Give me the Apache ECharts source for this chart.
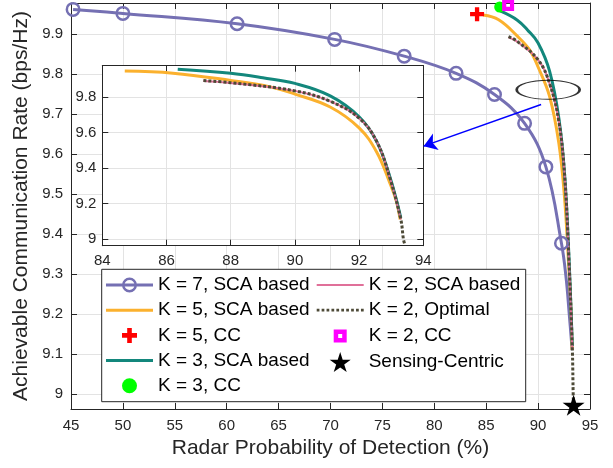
<!DOCTYPE html>
<html>
<head>
<meta charset="utf-8">
<script src="https://cdn.jsdelivr.net/npm/echarts@6/dist/echarts.min.js"></script>
<style>
  html, body { margin: 0; padding: 0; background: #fff; }
  #chart { width: 613px; height: 468px; }
</style>
</head>
<body>
<div id="chart"></div>
<script>
// values: [radar Pd (%), rate (bps/Hz)]
const k7Markers = [[45.2, 9.962], [50.0, 9.952], [61.0, 9.926], [70.4, 9.887], [77.1, 9.845],
  [82.1, 9.802], [85.8, 9.749], [88.7, 9.677], [90.75, 9.568], [92.25, 9.377]];
const k7Tail = [[92.7, 9.29], [93.0, 9.2], [93.28, 9.11]];
const k5Sca = [[84.7, 9.948], [86.2, 9.936], [88.0, 9.895], [89.2, 9.86], [90.0, 9.818], [91.1, 9.745],
  [92.0, 9.627], [92.55, 9.49], [92.95, 9.32], [93.15, 9.22], [93.28, 9.11]];
const k3Sca = [[86.35, 9.958], [88.0, 9.935], [89.0, 9.91], [90.0, 9.878], [91.1, 9.808], [92.0, 9.69],
  [92.55, 9.55], [92.96, 9.35], [93.3, 9.12]];
const k2Sca = [[87.15, 9.892], [88.0, 9.881], [90.0, 9.836], [91.1, 9.777], [92.0, 9.682],
  [92.55, 9.55], [92.96, 9.344], [93.3, 9.11]];
const k2Optimal = [[87.15, 9.894], [88.0, 9.882], [90.0, 9.836], [91.1, 9.777], [92.0, 9.682],
  [92.55, 9.55], [92.96, 9.344], [93.3, 9.11], [93.38, 9.0], [93.42, 8.972]];
const k5Cc = [[84.12, 9.95]];
const k3Cc = [[86.3, 9.968]];
const k2Cc = [[87.11, 9.973]];
const sensingCentric = [[93.42, 8.972]];

// zoom annotation: ellipse centre and arrow (start -> end)
const zoomMark = [[90.97, 9.761]];
const zoomArrow = [[90.29, 9.724], [78.97, 9.62]];

const mainXTicks = [45, 50, 55, 60, 65, 70, 75, 80, 85, 90, 95];
const mainYTicks = [9, 9.1, 9.2, 9.3, 9.4, 9.5, 9.6, 9.7, 9.8, 9.9];
const insetXTicks = [84, 86, 88, 90, 92, 94];
const insetYTicks = [9, 9.2, 9.4, 9.6, 9.8];
const yRange = [8.9625, 9.978];

const FONT = '"Liberation Sans", Arial, Helvetica, sans-serif';
const INK = '#262626';
const GRID_LINE = '#e3e3e3';
const C = {
  k7: '#7570b3', k5: '#fbb12e', k3: '#13877c', k2: '#e07099', opt: '#4d4a37',
  red: '#ff0000', green: '#00ff00', magenta: '#ff00ff', black: '#000000',
};

const RING = 'path://M7.5,0A7.5,7.5,0,1,1,7.5,15A7.5,7.5,0,1,1,7.5,0Z M7.5,2.5A5,5,0,1,0,7.5,12.5A5,5,0,1,0,7.5,2.5Z';
const CROSS = 'path://M4.5,0H8.5V4.5H13V8.5H8.5V13H4.5V8.5H0V4.5H4.5Z';
const SQUARE = 'path://M0,0H13V13H0Z M4.5,4.5V8.5H8.5V4.5Z';
const STAR = 'path://M10,0L12.245,6.91L19.511,6.91L13.633,11.18L15.878,18.09L10,13.82L4.122,18.09L6.367,11.18L0.489,6.91L7.755,6.91Z';
const ICON_K7 = 'path://M0,6H47V9H0Z M23.5,0A7.5,7.5,0,1,1,23.5,15A7.5,7.5,0,1,1,23.5,0Z M23.5,2.5A5,5,0,1,0,23.5,12.5A5,5,0,1,0,23.5,2.5Z';
const ICON_LINE = 'path://M0,0H47V3H0Z';
const ICON_THIN = 'path://M0,0H47V2H0Z';
const ICON_DOTS = 'path://M0,0h2.5v2.5h-2.5z M4.5,0h2.5v2.5h-2.5z M9,0h2.5v2.5h-2.5z M13.5,0h2.5v2.5h-2.5z M18,0h2.5v2.5h-2.5z M22.5,0h2.5v2.5h-2.5z M27,0h2.5v2.5h-2.5z M31.5,0h2.5v2.5h-2.5z M36,0h2.5v2.5h-2.5z M40.5,0h2.5v2.5h-2.5z';
// square padded to a 20px box so it keeps its size next to the bigger star
const ICON_SQUARE = 'path://M0,0 M20,20 M3.5,3.5H16.5V16.5H3.5Z M8,8V12H12V8Z';

const tickLabel = (ticks) => (v) => {
  const t = ticks.find((t) => Math.abs(t - v) < 1e-6);
  return t === undefined ? '' : String(t);
};

const axisBase = {
  type: 'value',
  axisLine: { show: true, onZero: false, lineStyle: { color: INK, width: 1 } },
  axisTick: { show: true, inside: true, length: 6, lineStyle: { color: INK } },
};

function xAxes(gridIndex, ticks, z, labelCfg, extra) {
  const step = ticks[1] - ticks[0];
  const common = { ...axisBase, gridIndex, min: ticks[0], max: ticks[ticks.length - 1], interval: step, z };
  return [
    {
      ...common, position: 'bottom',
      axisLabel: { color: INK, fontSize: 15, fontFamily: FONT, formatter: tickLabel(ticks), ...labelCfg },
      splitLine: { show: true, lineStyle: { color: GRID_LINE } },
      ...extra,
    },
    { ...common, position: 'top', axisLabel: { show: false }, splitLine: { show: false } },
  ];
}

function yAxes(gridIndex, ticks, splitNumber, z, labelCfg, extra) {
  const common = { ...axisBase, gridIndex, min: yRange[0], max: yRange[1], splitNumber, z };
  return [
    {
      ...common, position: 'left',
      axisLabel: { color: INK, fontSize: 15, fontFamily: FONT, formatter: tickLabel(ticks), ...labelCfg },
      splitLine: { show: true, lineStyle: { color: GRID_LINE } },
      ...extra,
    },
    { ...common, position: 'right', axisLabel: { show: false }, splitLine: { show: false } },
  ];
}

const noHover = { emphasis: { disabled: true }, silent: true, animation: false };

function curve(name, data, color, width, axis, z, dash) {
  return {
    ...noHover, name, type: 'line', data, xAxisIndex: axis, yAxisIndex: axis, z,
    symbol: 'none', smooth: 0.4, clip: true,
    itemStyle: { color },
    lineStyle: { color, width, type: dash || 'solid' },
  };
}

function point(name, data, color, symbol, size) {
  return {
    ...noHover, name, type: 'scatter', data, xAxisIndex: 0, yAxisIndex: 0, z: 3,
    symbol, symbolSize: size, symbolKeepAspect: true,
    itemStyle: { color, borderWidth: 0, opacity: 1 },
  };
}

const k7Data = k7Markers.map((p) => ({ value: p }))
  .concat(k7Tail.map((p) => ({ value: p, symbol: 'none' })));

const legendBase = {
  orient: 'vertical', itemWidth: 47, padding: 0, top: 275.5, itemGap: 6.2,
  selectedMode: false, z: 5, symbolKeepAspect: true,
  itemStyle: { borderWidth: 0 },
  textStyle: { fontSize: 19, fontFamily: FONT, color: '#000' },
};

const option = {
  backgroundColor: '#fff',
  animation: false,
  grid: [
    { left: 71, right: 23, top: 3, bottom: 59 },
    { left: 102.3, top: 65.7, width: 321, height: 180, show: true, backgroundColor: '#fff', borderWidth: 0, z: 10 },
  ],
  xAxis: [
    ...xAxes(0, mainXTicks, 0, { margin: 9 }, {
      name: 'Radar Probability of Detection (%)', nameLocation: 'middle', nameGap: 25,
      nameTextStyle: { fontSize: 21, color: INK, fontFamily: FONT },
    }),
    ...xAxes(1, insetXTicks, 11, { margin: 8 }, {}),
  ],
  yAxis: [
    ...yAxes(0, mainYTicks, 10, 0, { margin: 8 }, {
      name: 'Achievable Communication Rate (bps/Hz)', nameLocation: 'middle', nameGap: 33,
      nameTextStyle: { fontSize: 21, color: INK, fontFamily: FONT },
    }),
    ...yAxes(1, insetYTicks, 5, 11, { margin: 6 }, {}),
  ],
  legend: [
    {
      ...legendBase, left: 106, itemHeight: 15,
      data: [
        { name: 'K = 7, SCA based', icon: ICON_K7 },
        { name: 'K = 5, SCA based', icon: ICON_LINE },
        { name: 'K = 5, CC', icon: CROSS },
        { name: 'K = 3, SCA based', icon: ICON_LINE },
        { name: 'K = 3, CC', icon: 'circle' },
      ],
    },
    {
      ...legendBase, left: 316.7, itemHeight: 20,
      data: [
        { name: 'K = 2, SCA based', icon: ICON_THIN },
        { name: 'K = 2, Optimal', icon: ICON_DOTS },
        { name: 'K = 2, CC', icon: ICON_SQUARE },
        { name: 'Sensing-Centric', icon: STAR },
      ],
    },
  ],
  graphic: [{
    type: 'rect', z: 3, silent: true,
    shape: { x: 101.7, y: 269.3, width: 424, height: 132.4 },
    style: { fill: '#fff', stroke: INK, lineWidth: 1 },
  }],
  series: [
    {
      ...curve('K = 7, SCA based', k7Data, C.k7, 3, 0, 2),
      symbol: RING, symbolSize: 15, symbolKeepAspect: true, showSymbol: true, showAllSymbol: true,
      itemStyle: { color: C.k7, borderWidth: 0 },
    },
    curve('K = 5, SCA based', k5Sca, C.k5, 3, 0, 2),
    point('K = 5, CC', k5Cc, C.red, CROSS, 14),
    curve('K = 3, SCA based', k3Sca, C.k3, 3, 0, 2),
    point('K = 3, CC', k3Cc, C.green, 'circle', 11),
    curve('K = 2, SCA based', k2Sca, C.k2, 2, 0, 2),
    curve('K = 2, Optimal', k2Optimal, C.opt, 3, 0, 2, [3, 2]),
    point('K = 2, CC', k2Cc, C.magenta, SQUARE, 12),
    point('Sensing-Centric', sensingCentric, C.black, STAR, 22),
    // inset copies
    curve('K = 5, SCA based', k5Sca, C.k5, 3, 2, 12),
    curve('K = 3, SCA based', k3Sca, C.k3, 3, 2, 12),
    curve('K = 2, SCA based', k2Sca, C.k2, 2, 2, 12),
    curve('K = 2, Optimal', k2Optimal, C.opt, 3, 2, 12, [3, 2]),
    {
      ...noHover, name: 'zoom', type: 'scatter', data: zoomMark, xAxisIndex: 0, yAxisIndex: 0, z: 20,
      symbol: 'circle', symbolSize: [63, 19],
      itemStyle: { color: 'rgba(0,0,0,0)', borderColor: '#000', borderWidth: 1.5 },
      markLine: {
        silent: true, animation: false, z: 20,
        symbol: ['none', 'arrow'], symbolSize: 13,
        label: { show: false },
        lineStyle: { color: '#0000ff', width: 1.5, type: 'solid' },
        data: [[{ coord: zoomArrow[0] }, { coord: zoomArrow[1] }]],
      },
    },
  ],
};

const chart = echarts.init(document.getElementById('chart'), null, { renderer: 'canvas' });
chart.setOption(option);
window.addEventListener('resize', () => chart.resize());
</script>
</body>
</html>
